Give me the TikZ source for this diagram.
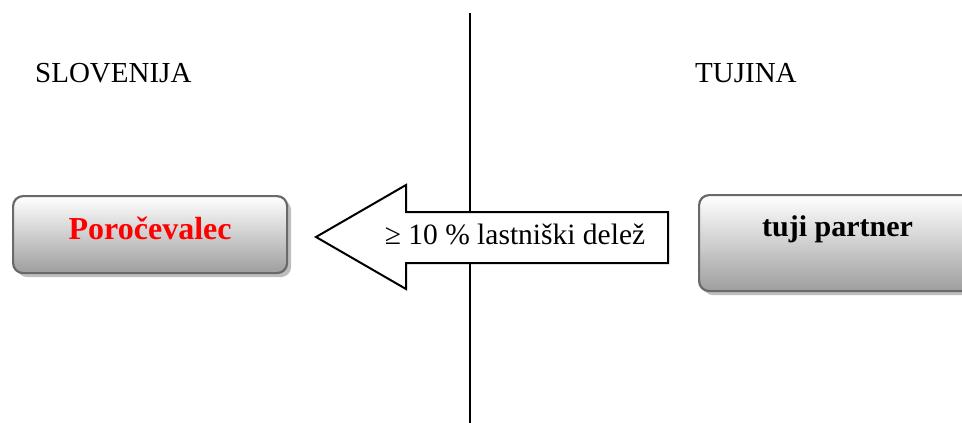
\documentclass[tikz,border=0pt]{standalone}
\usepackage{fontspec}
\setmainfont{Liberation Serif}
\usetikzlibrary{shadows}

\definecolor{boxborder}{RGB}{105,105,105}
\definecolor{boxbottom}{RGB}{158,158,158}
\definecolor{shadowgray}{RGB}{190,190,190}
\definecolor{reporterred}{RGB}{255,0,0}

\tikzset{
	partybox/.style={rounded corners=10pt, draw=boxborder, line width=2.2pt,
		top color=white, bottom color=boxbottom, inner sep=0pt,
		font=\rmfamily\fontsize{30}{36}\selectfont\bfseries,
		drop shadow={shadow xshift=4pt, shadow yshift=-4pt, fill=shadowgray, opacity=1}},
	sidelabel/.style={inner sep=0pt, anchor=base west, font=\rmfamily\fontsize{29}{34}\selectfont},
	sharetext/.style={inner sep=0pt, anchor=base, font=\rmfamily\fontsize{29.5}{34}\selectfont}
}

\begin{document}
\begin{tikzpicture}[x=1pt,y=-1pt]
	\useasboundingbox (0,0) rectangle (962,423);

	%border line
	\coordinate (divtop) at (470,13);
	\coordinate (divbot) at (470,423);
	\draw[line width=2pt] (divtop) -- (divbot);

	%countries
	\node[sidelabel] (slo) at (35,82) {SLOVENIJA};
	\node[sidelabel] (tuj) at (695,82) {TUJINA};

	%boxes
	\node[partybox, anchor=north west, minimum width=274pt, text height=43pt, text depth=34pt,
		text=reporterred, font=\rmfamily\fontsize{32}{36}\selectfont\bfseries] (porocevalec) at (12,195) {Poročevalec};
	\node[partybox, anchor=north west, minimum width=277pt, text height=41pt, text depth=55pt]
		(partner) at (698,194) {tuji partner};

	%block arrow
	\draw[line width=2pt, fill=white, line join=miter]
		(668,212) -- (406,212) -- (406,185) -- (316,237) -- (406,289) -- (406,263) -- (668,263) -- cycle;
	\node[sharetext] (delez) at (515,244) {≥ 10 \% lastniški delež};
\end{tikzpicture}
\end{document}
